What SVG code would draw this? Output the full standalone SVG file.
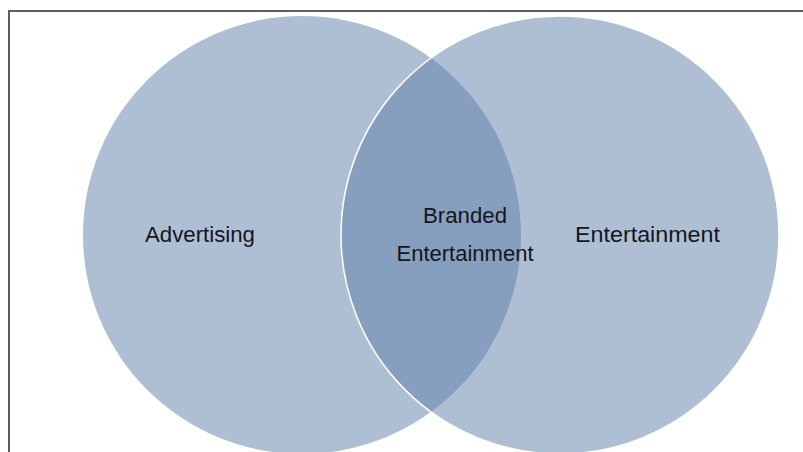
<svg xmlns="http://www.w3.org/2000/svg" width="803" height="452" viewBox="0 0 803 452">
  <style>
    .set { fill: #5d7fa9; fill-opacity: 0.5; }
    .lbl { font-family: "Liberation Sans", Arial, sans-serif; font-size: 22px; fill: #15151d; }
  </style>
  <rect x="0" y="0" width="803" height="452" fill="#ffffff"/>
  <rect id="frame" x="9" y="11" width="810" height="460" fill="none" stroke="#5e5e5e" stroke-width="2"/>
  <g id="advertising">
    <circle class="set" cx="302" cy="235" r="219"/>
    <text class="lbl" x="145" y="242" textLength="110" lengthAdjust="spacingAndGlyphs">Advertising</text>
  </g>
  <g id="entertainment">
    <circle class="set" cx="560" cy="235" r="219" stroke="#ffffff" stroke-width="1.5"/>
    <text class="lbl" x="575" y="242" textLength="145" lengthAdjust="spacingAndGlyphs">Entertainment</text>
  </g>
  <g id="branded-entertainment">
    <text class="lbl" x="465" y="223" text-anchor="middle" font-size="21" textLength="84" lengthAdjust="spacingAndGlyphs">Branded</text>
    <text class="lbl" x="465" y="261" text-anchor="middle" font-size="21" textLength="137" lengthAdjust="spacingAndGlyphs">Entertainment</text>
  </g>
  <g id="connectors"/>
</svg>
